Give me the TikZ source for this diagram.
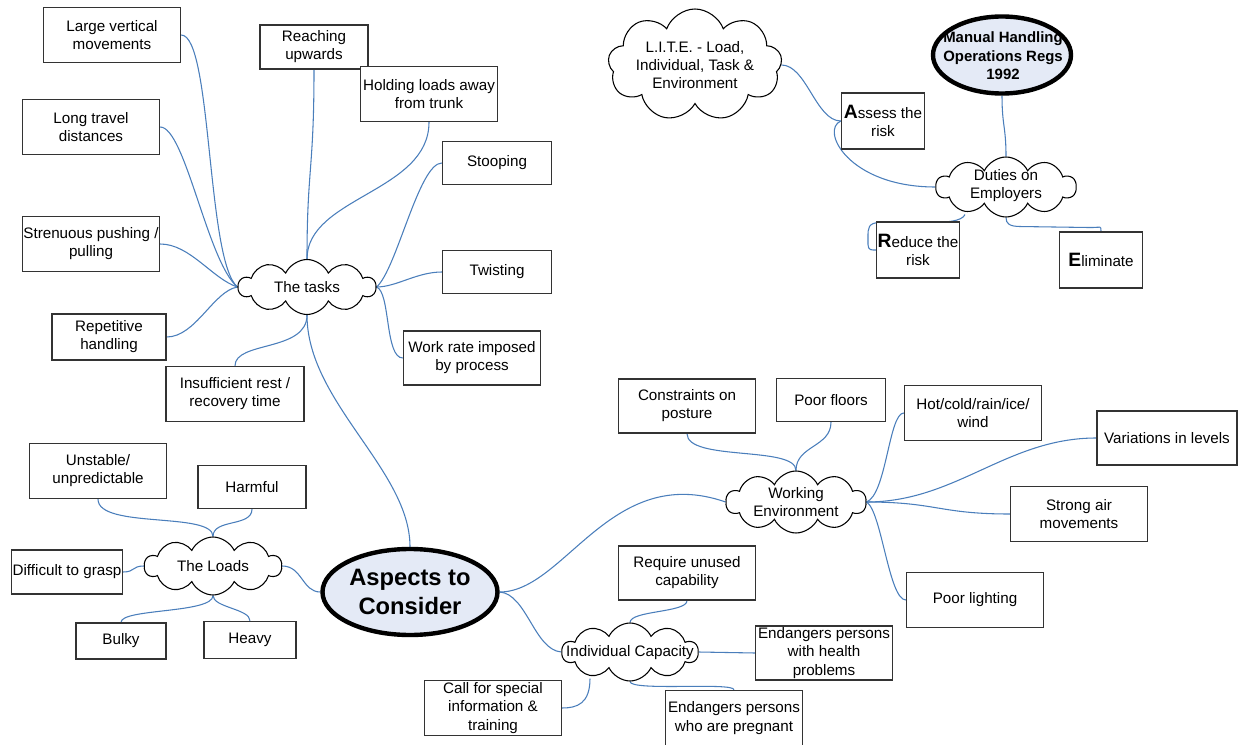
\documentclass[tikz,border=0pt]{standalone}
\usepackage{fontspec}
\setmainfont{Liberation Sans}
\usetikzlibrary{shapes.symbols,shapes.geometric,calc}
\definecolor{linkblue}{RGB}{74,126,187}
\definecolor{hubfill}{RGB}{228,234,246}
\pgfdeclarelayer{background}
\pgfsetlayers{background,main}
\newcommand{\capletter}[1]{{\fontsize{14.5}{13.6}\selectfont\bfseries #1}}
\tikzset{
  box/.style={draw=black!80, line width=1pt, fill=white},
  sz/.style 2 args={minimum width=#1*0.75pt, minimum height=#2*0.75pt},
  puff/.style={cloud, draw=black, line width=0.8pt, fill=white, cloud puffs=10,
               cloud puff arc=130, cloud ignores aspect},
  hub/.style={ellipse, draw=black, line width=3.3pt, fill=hubfill},
  link/.style={draw=linkblue, line width=0.8pt},
}

\begin{document}
\begin{tikzpicture}[x=0.75pt,y=-0.75pt,
  every node/.style={font=\fontsize{11.4}{13.6}\selectfont, align=center, inner sep=0pt}]
\useasboundingbox (0,0) rectangle (1239,745);

% ---------- The tasks ----------
\node[box, sz={137}{55}] (lvm) at (112,35) {Large vertical\\movements};
\node[box, sz={137}{55}] (ltd) at (91,127) {Long travel\\distances};
\node[box, sz={137}{55}] (spp) at (91,244) {Strenuous pushing /\\pulling};
\node[box, sz={114}{46}] (rep) at (109,337) {Repetitive\\handling};
\node[box, sz={138}{55}] (ins) at (235,394) {Insufficient rest /\\recovery time};
\node[box, sz={108}{44}] (rea) at (314,47) {Reaching\\upwards};
\node[box, sz={137}{55}] (hol) at (429,94) {Holding loads away\\from trunk};
\node[box, sz={109}{43}] (sto) at (497,163) {Stooping};
\node[box, sz={109}{43}] (twi) at (497,272) {Twisting};
\node[box, sz={137}{54}] (wri) at (472,358) {Work rate imposed\\by process};
\node[puff, sz={137}{55}] (tasks) at (307,287) {};
\node (tasks-t) at (307,287) {The tasks};

% ---------- The loads ----------
\node[box, sz={137}{55}] (uns) at (98,471) {Unstable/\\unpredictable};
\node[box, sz={108}{43}] (har) at (252,487) {Harmful};
\node[box, sz={111}{44}] (dif) at (67,572) {Difficult to grasp};
\node[box, sz={90}{36}] (bul) at (121,641) {Bulky};
\node[box, sz={92}{37}] (hea) at (250,640) {Heavy};
\node[puff, sz={137}{58}] (loads) at (213,566) {};
\node (loads-t) at (213,566) {The Loads};

% ---------- central topic ----------
\node[hub, sz={175}{86}, font=\fontsize{17.8}{21.8}\selectfont\bfseries] (asp) at (410,592) {Aspects to\\Consider};

% ---------- regulations ----------
\node[hub, sz={138}{77}] (mho) at (1002,55) {};
\node[font=\fontsize{11.2}{13.8}\selectfont\bfseries] (mho-t) at (1003,56) {Manual Handling\\Operations Regs\\1992};
\node[puff, sz={174}{112}, cloud puffs=9, cloud puff arc=140] (lite) at (695,65) {};
\node (lite-t) at (695,65) {L.I.T.E. - Load,\\Individual, Task \&\\Environment};
\node[box, sz={83}{56}] (ass) at (883,121) {\capletter{A}ssess the\\risk};
\node[puff, sz={140}{60}] (du) at (1006,187) {};
\node (du-t) at (1006,186) {Duties on\\Employers};
\node[box, sz={83}{56}] (red) at (918,250) {\capletter{R}educe the\\risk};
\node[box, sz={83}{56}] (eli) at (1101,260) {\capletter{E}liminate};

% ---------- working environment ----------
\node[box, sz={137}{54}] (con) at (687,406) {Constraints on\\posture};
\node[box, sz={109}{43}] (pfl) at (831,400) {Poor floors};
\node[box, sz={137}{55}] (hot) at (973,413) {Hot/cold/rain/ice/\\wind};
\node[box, sz={140}{54}] (var) at (1167,438) {Variations in levels};
\node[box, sz={137}{55}] (str) at (1079,514) {Strong air\\movements};
\node[box, sz={137}{55}] (pli) at (975,600) {Poor lighting};
\node[puff, sz={140}{62}] (we) at (796,502) {};
\node (we-t) at (796,502) {Working\\Environment};

% ---------- individual capacity ----------
\node[box, sz={137}{54}] (req) at (687,573) {Require unused\\capability};
\node[box, sz={137}{54}] (ehp) at (824,653) {Endangers persons\\with health\\problems};
\node[box, sz={137}{55}] (epr) at (734,718) {Endangers persons\\who are pregnant};
\node[box, sz={137}{55}] (csp) at (493,708) {Call for special\\information \&\\training};
\node[puff, sz={136}{58}] (ic) at (630,652) {};
\node (ic-t) at (630,653) {Individual Capacity};

% ---------- connectors ----------
\begin{pgfonlayer}{background}
  % tasks
  \draw[link] (lvm.east) .. controls +(31,0) and +(-31,-26) .. (tasks.west);
  \draw[link] (ltd.east) .. controls +(25,0) and +(-30,-25) .. (tasks.west);
  \draw[link] (spp.east) .. controls +(30,0) and +(-25,-8) .. (tasks.west);
  \draw[link] (rep.east) .. controls +(29,0) and +(-24,4) .. (tasks.west);
  \draw[link] (ins.north) .. controls +(0,-25) and +(0,37) .. (tasks.south);
  \draw[link] (rea.south) .. controls +(0,100) and +(0,-90) .. (tasks.north);
  \draw[link] (hol.south) .. controls +(0,70) and +(0,-62) .. (tasks.north);
  \draw[link] (sto.west) .. controls +(-23,0) and +(20,-17) .. (tasks.east);
  \draw[link] (twi.west) .. controls +(-25,0) and +(20,0) .. (tasks.east);
  \draw[link] (wri.west) .. controls +(-18,0) and +(14,5) .. (tasks.east);
  \draw[link] (asp.north) .. controls +(0,-77) and +(0,87) .. (tasks.south);
  % loads
  \draw[link] (uns.south) .. controls +(0,30) and +(0,-25) .. (loads.north);
  \draw[link] (har.south) .. controls +(0,18) and +(0,-18) .. (loads.north);
  \draw[link] (dif.east) .. controls +(12,0) and +(-12,0) .. (loads.west);
  \draw[link] (loads.south) .. controls +(0,18) and +(0,-14) .. (bul.north);
  \draw[link] (loads.south) .. controls +(0,12) and +(0,-12) .. (hea.north);
  \draw[link] (loads.east) .. controls +(20,0) and +(-18,0) .. (asp.west);
  % branches of the central topic
  \draw[link] (asp.east) .. controls +(65,0) and +(-115,-40) .. (we.west);
  \draw[link] (asp.east) .. controls +(27,2) and +(-27,-2) .. (ic.west);
  % working environment
  \draw[link] (con.south) .. controls +(0,28) and +(0,-25) .. (we.north);
  \draw[link] (pfl.south) .. controls +(0,25) and +(0,-25) .. (we.north);
  \draw[link] (we.east) .. controls +(20,-7) and +(-15,0) .. (hot.west);
  \draw[link] (we.east) .. controls +(90,0) and +(-90,0) .. (var.west);
  \draw[link] (we.east) .. controls +(70,0) and +(-71,0) .. (str.west);
  \draw[link] (we.east) .. controls +(15,8) and +(-17,0) .. (pli.west);
  % individual capacity
  \draw[link] (req.south) .. controls +(0,12) and +(0,-12) .. (ic.north);
  \draw[link] (ic.east) -- (ehp.west);
  \draw[link] (ic.south) .. controls +(0,10) and +(0,-8) .. (epr.north);
  \draw[link] ($(ic.south)+(-40,-3)$) .. controls +(0,25) and +(15,0) .. (csp.east);
  % regulations
  \draw[link] (lite.east) .. controls +(25,0) and +(-25,0) .. (ass.west);
  \draw[link] (du.west) .. controls +(-87,0) and +(-21,9) .. (ass.west);
  \draw[link] (mho.south) .. controls +(0,30) and +(0,-30) .. (du.north);
  \draw[link] ($(du.south)+(-41,-3)$) .. controls +(-3,7) and +(15,0) .. ++(-35,8)
      -- ++(-50,0) .. controls +(-12,0) and +(0,-8) .. ++(-12,14)
      -- ++(0,8) .. controls +(0,6) and +(-4,0) .. (red.west);
  \draw[link] (du.south) .. controls +(0,6) and +(-12,0) .. ++(15,9)
      -- ++(70,1) .. controls +(10,0) and +(0,-6) .. (eli.north);
\end{pgfonlayer}
\end{tikzpicture}
\end{document}
